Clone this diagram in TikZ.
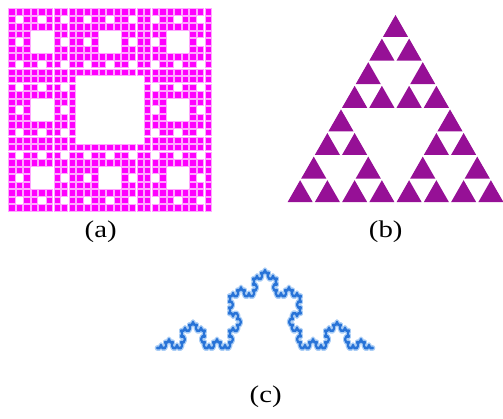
\documentclass[tikz,border=0pt]{standalone}
\usepackage{fontspec}
\setmainfont{Liberation Serif}
\usetikzlibrary{decorations.fractals}
\definecolor{carpetpink}{RGB}{255,0,255}
\definecolor{sierppurple}{RGB}{150,16,150}
\definecolor{kochblue}{RGB}{40,115,215}
\definecolor{kochglow}{RGB}{170,205,245}

\begin{document}
\begin{tikzpicture}[x=1pt,y=-1pt,
    carpetcell/.style={fill=carpetpink,draw=carpetpink!35,line width=0.8pt},
    sierpcell/.style={fill=sierppurple},
    kochhalo/.style={draw=kochglow,line width=4.6pt,line join=round,line cap=round},
    kochline/.style={draw=kochblue,line width=2.1pt,line join=round,line cap=round},
    caption/.style={font=\fontsize{24}{28}\selectfont,inner sep=0pt,xscale=1.2}]
    % Page frame
    \useasboundingbox (0,0) rectangle (503,419);
    % Carpet (a): 27 x 27 cells
    \foreach \ax/\ay in {0/0,1/0,2/0,0/1,2/1,0/2,1/2,2/2}
      \foreach \bx/\by in {0/0,1/0,2/0,0/1,2/1,0/2,1/2,2/2}
        \foreach \cx/\cy in {0/0,1/0,2/0,0/1,2/1,0/2,1/2,2/2}
        {
          \pgfmathsetmacro{\cellx}{8+7.55*(9*\ax+3*\bx+\cx)}
          \pgfmathsetmacro{\celly}{8+7.55*(9*\ay+3*\by+\cy)}
          \draw[carpetcell] (\cellx+0.6,\celly+0.6) rectangle ++(6.35,6.35);
        }
    % Gasket (b): 27 small triangles
    \foreach \ax/\ay in {0/0,-0.5/1,0.5/1}
      \foreach \bx/\by in {0/0,-0.5/1,0.5/1}
        \foreach \cx/\cy in {0/0,-0.5/1,0.5/1}
        {
          \pgfmathsetmacro{\tipx}{395.5+27.25*(4*\ax+2*\bx+\cx)}
          \pgfmathsetmacro{\tipy}{14+23.6*(4*\ay+2*\by+\cy)}
          \fill[sierpcell] (\tipx,\tipy+1) -- (\tipx+12.6,\tipy+23) -- (\tipx-12.6,\tipy+23) -- cycle;
        }
    % Koch curve (c)
    \begin{scope}[transform canvas={shift={(157,348)},yscale=1.25}]
      \draw[kochhalo,decoration=Koch snowflake]
        decorate{decorate{decorate{decorate{(0,0) -- (216,0)}}}};
      \draw[kochline,decoration=Koch snowflake]
        decorate{decorate{decorate{decorate{(0,0) -- (216,0)}}}};
    \end{scope}
    % Captions
    \node[caption] (capa) at (100.7,231.7) {(a)};
    \node[caption] (capb) at (385.7,231.7) {(b)};
    \node[caption] (capc) at (265.7,396.7) {(c)};
\end{tikzpicture}
\end{document}
